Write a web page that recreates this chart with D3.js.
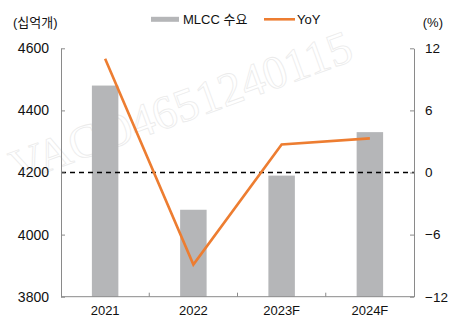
<!DOCTYPE html>
<html>
<head>
<meta charset="utf-8">
<script src="https://cdn.jsdelivr.net/npm/d3@7"></script>
<style>
  html, body { margin: 0; padding: 0; background: #fff; }
  svg text { font-family: "Liberation Sans", Arial, "Noto Sans CJK KR", sans-serif; fill: #111; }
</style>
</head>
<body>
<svg id="chart" width="462" height="330"></svg>
<script>
// MLCC demand (billion units) and year-over-year growth (%)
const categories = ["2021", "2022", "2023F", "2024F"];
const demand = [4480, 4080, 4190, 4330];
const yoy = [11.0, -8.9, 2.7, 3.3];
const leftTicks = [3800, 4000, 4200, 4400, 4600];
const rightTicks = [-12, -6, 0, 6, 12];
const seriesNames = ["MLCC 수요", "YoY"];
const unitLeft = "(십억개)";
const unitRight = "(%)";
const stamp = "VACO4651240115";

const svg = d3.select("#chart");
const plot = { left: 61, right: 414, top: 48.3, bottom: 296.7 };
const axisColor = "#8a8a8a";
const barColor = "#b5b6b8";
const lineColor = "#ed7d31";

// faint document stamp behind the chart
svg.append("text")
  .attr("transform", "translate(17,183) rotate(-20)")
  .style("font-family", "'Liberation Serif', 'DejaVu Serif', serif")
  .style("font-size", "47px")
  .style("fill", "none")
  .style("stroke", "#ebebeb")
  .style("stroke-width", 0.8)
  .text(stamp);

const x = d3.scaleBand().domain(categories).range([plot.left, plot.right]).padding(0);
const yL = d3.scaleLinear().domain([3800, 4600]).range([plot.bottom, plot.top]);
const yR = d3.scaleLinear().domain([-12, 12]).range([plot.bottom, plot.top]);

// bars
const barW = x.bandwidth() * 0.3;
svg.append("g").selectAll("rect").data(categories).join("rect")
  .attr("x", (d) => x(d) + (x.bandwidth() - barW) / 2)
  .attr("width", barW)
  .attr("y", (d, i) => yL(demand[i]))
  .attr("height", (d, i) => yL(3800) - yL(demand[i]))
  .attr("fill", barColor);

// zero line for growth
svg.append("line")
  .attr("x1", plot.left).attr("x2", plot.right)
  .attr("y1", yR(0)).attr("y2", yR(0))
  .attr("stroke", "#000").attr("stroke-width", 1.3)
  .attr("stroke-dasharray", "5,4");

// left axis
const gL = svg.append("g").attr("transform", `translate(${plot.left},0)`)
  .call(d3.axisLeft(yL).tickValues(leftTicks).tickFormat(d3.format("d"))
    .tickSizeInner(-4).tickSizeOuter(0).tickPadding(12));
gL.selectAll("text").style("font-size", "14px");

// right axis
const gR = svg.append("g").attr("transform", `translate(${plot.right},0)`)
  .call(d3.axisRight(yR).tickValues(rightTicks)
    .tickSizeInner(-4).tickSizeOuter(0).tickPadding(11));
gR.selectAll("text").style("font-size", "13.5px");

// bottom axis: labels at band centres, tick marks at band boundaries
const gB = svg.append("g").attr("transform", `translate(0,${plot.bottom})`)
  .call(d3.axisBottom(x).tickSize(0).tickPadding(9));
gB.selectAll("text").style("font-size", "13px");
gB.selectAll(".domain").remove();
gB.append("line").attr("x1", plot.left).attr("x2", plot.right)
  .attr("stroke", axisColor);
gB.selectAll(".bound").data(categories.slice(1)).join("line")
  .attr("class", "bound")
  .attr("x1", (d) => x(d)).attr("x2", (d) => x(d))
  .attr("y1", 0).attr("y2", -4)
  .attr("stroke", axisColor);

[gL, gR].forEach((g) => {
  g.selectAll(".domain").attr("stroke", axisColor);
  g.selectAll(".tick line").attr("stroke", axisColor);
});
svg.selectAll(".tick text").style("fill", "#111")
  .style("font-family", "'Liberation Sans', Arial, sans-serif");

// growth line
const line = d3.line()
  .x((d, i) => x(categories[i]) + x.bandwidth() / 2)
  .y((d) => yR(d));
svg.append("path").datum(yoy)
  .attr("d", line)
  .attr("fill", "none")
  .attr("stroke", lineColor)
  .attr("stroke-width", 2.6)
  .attr("stroke-linejoin", "miter");

// unit labels
svg.append("text").attr("x", 13).attr("y", 27).style("font-size", "13px").text(unitLeft);
svg.append("text").attr("x", 443).attr("y", 27).attr("text-anchor", "end")
  .style("font-size", "13px").text(unitRight);

// legend
const lg = svg.append("g");
lg.append("rect").attr("x", 151).attr("y", 16.8).attr("width", 28).attr("height", 5)
  .attr("fill", barColor);
lg.append("text").attr("x", 183).attr("y", 24).style("font-size", "13px").text(seriesNames[0]);
lg.append("line").attr("x1", 264).attr("x2", 295).attr("y1", 19.3).attr("y2", 19.3)
  .attr("stroke", lineColor).attr("stroke-width", 2.6);
lg.append("text").attr("x", 297).attr("y", 24).style("font-size", "13px").text(seriesNames[1]);
</script>
</body>
</html>
